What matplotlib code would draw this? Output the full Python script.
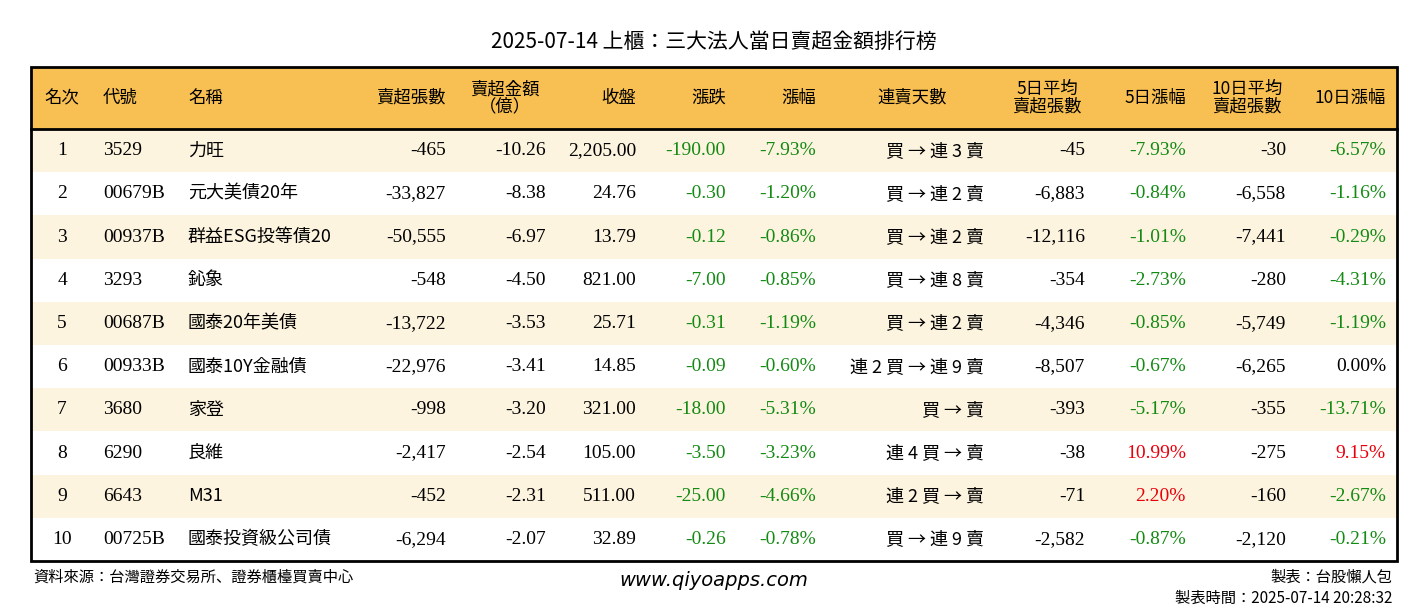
import matplotlib
matplotlib.use("Agg")
import matplotlib.pyplot as plt
from matplotlib.patches import Rectangle
from matplotlib import font_manager as fm

ranks = [1,2,3,4,5,6,7,8,9,10]
codes = ["3529","00679B","00937B","3293","00687B","00933B","3680","6290","6643","00725B"]
names = ["力旺","元大美債20年","群益ESG投等債20","鈊象","國泰20年美債","國泰10Y金融債","家登","良維","M31","國泰投資級公司債"]
sell_vol = [-465,-33827,-50555,-548,-13722,-22976,-998,-2417,-452,-6294]
sell_amt = [-10.26,-8.38,-6.97,-4.50,-3.53,-3.41,-3.20,-2.54,-2.31,-2.07]
close = [2205.00,24.76,13.79,821.00,25.71,14.85,321.00,105.00,511.00,32.89]
change = [-190.00,-0.30,-0.12,-7.00,-0.31,-0.09,-18.00,-3.50,-25.00,-0.26]
pct = [-7.93,-1.20,-0.86,-0.85,-1.19,-0.60,-5.31,-3.23,-4.66,-0.78]
streak = ["買 → 連 3 賣","買 → 連 2 賣","買 → 連 2 賣","買 → 連 8 賣","買 → 連 2 賣",
          "連 2 買 → 連 9 賣","買 → 賣","連 4 買 → 賣","連 2 買 → 賣","買 → 連 9 賣"]
avg5 = [-45,-6883,-12116,-354,-4346,-8507,-393,-38,-71,-2582]
pct5 = [-7.93,-0.84,-1.01,-2.73,-0.85,-0.67,-5.17,10.99,2.20,-0.87]
avg10 = [-30,-6558,-7441,-280,-5749,-6265,-355,-275,-160,-2120]
pct10 = [-6.57,-1.16,-0.29,-4.31,-1.19,0.00,-13.71,9.15,-2.67,-0.21]
headers = ["名次","代號","名稱","賣超張數","賣超金額\n（億）","收盤","漲跌","漲幅","連賣天數",
           "5日平均\n賣超張數","5日漲幅","10日平均\n賣超張數","10日漲幅"]

avail = {f.name for f in fm.fontManager.ttflist}
cjk = [n for n in ["Noto Sans CJK TC","Noto Sans CJK JP","Noto Sans CJK SC","Noto Sans CJK KR"] if n in avail]
FONT = ["Liberation Serif"] + cjk[:1]
CJKF = cjk[:1] if cjk else ["DejaVu Sans"]

W, H = 1428, 612
fig = plt.figure(figsize=(W/100, H/100), dpi=100)
ax = fig.add_axes([0, 0, 1, 1])
ax.set_xlim(0, W); ax.set_ylim(H, 0); ax.axis("off")

GREEN, RED = "#138a13", "#e8000b"
def col(v):
    return GREEN if v < 0 else (RED if v > 0 else "black")

left, right, top, hdr_bot = 31, 1397, 67, 129
row_h = 43.2
ax.add_patch(Rectangle((left, top), right-left, hdr_bot-top, facecolor="#F8BF52", edgecolor="none"))
for i in range(len(ranks)):
    y0 = hdr_bot + i*row_h
    fc = "#FDF4DF" if i % 2 == 0 else "white"
    ax.add_patch(Rectangle((left, y0), right-left, row_h, facecolor=fc, edgecolor="none"))
bottom = hdr_bot + len(ranks)*row_h
ax.add_patch(Rectangle((left, top), right-left, bottom-top, facecolor="none", edgecolor="black", lw=2))
ax.plot([left, right], [hdr_bot, hdr_bot], color="black", lw=2)

colx = [62, 103, 188, 446, 546, 636, 726, 816, 984, 1085, 1186, 1286, 1386]
align = ["center","left","left","right","right","right","right","right","right","right","right","right","right"]
hx = [62, 103, 188, 446, 505, 636, 726, 816, 912, 1047, 1186, 1247, 1386]
halign = ["center","left","left","right","center","right","right","right","center","center","right","center","right"]

fs = 14
for x, a, h in zip(hx, halign, headers):
    ax.text(x, (top+hdr_bot)/2, h, ha=a, va="center", fontsize=12.5, family=CJKF,
            linespacing=0.95, color="black")

for i in range(len(ranks)):
    yc = hdr_bot + (i+0.5)*row_h
    vals = [(str(ranks[i]),"black"),(codes[i],"black"),(names[i],"black"),
            (f"{sell_vol[i]:,}","black"),(f"{sell_amt[i]:.2f}","black"),(f"{close[i]:,.2f}","black"),
            (f"{change[i]:.2f}",col(change[i])),(f"{pct[i]:.2f}%",col(pct[i])),(streak[i],"black"),
            (f"{avg5[i]:,}","black"),(f"{pct5[i]:.2f}%",col(pct5[i])),
            (f"{avg10[i]:,}","black"),(f"{pct10[i]:.2f}%",col(pct10[i]))]
    for j, ((t, c), x, a) in enumerate(zip(vals, colx, align)):
        fam = CJKF if j in (2, 8) else FONT
        fsz = 13 if j in (2, 8) else fs
        ax.text(x, yc, t, ha=a, va="center", fontsize=fsz, family=fam, color=c)

ax.text(W/2, 42, "2025-07-14 上櫃：三大法人當日賣超金額排行榜", ha="center", va="center",
        fontsize=15, family=CJKF)
ax.text(33, 577, "資料來源：台灣證券交易所、證券櫃檯買賣中心", ha="left", va="center", fontsize=11, family=CJKF)
ax.text(714, 580, "www.qiyoapps.com", ha="center", va="center", fontsize=14, style="italic", family="DejaVu Sans")
ax.text(1392, 577, "製表：台股懶人包", ha="right", va="center", fontsize=11, family=CJKF)
ax.text(1392, 598, "製表時間：2025-07-14 20:28:32", ha="right", va="center", fontsize=11, family=CJKF)

fig.savefig("out.png", dpi=100, facecolor="white")
